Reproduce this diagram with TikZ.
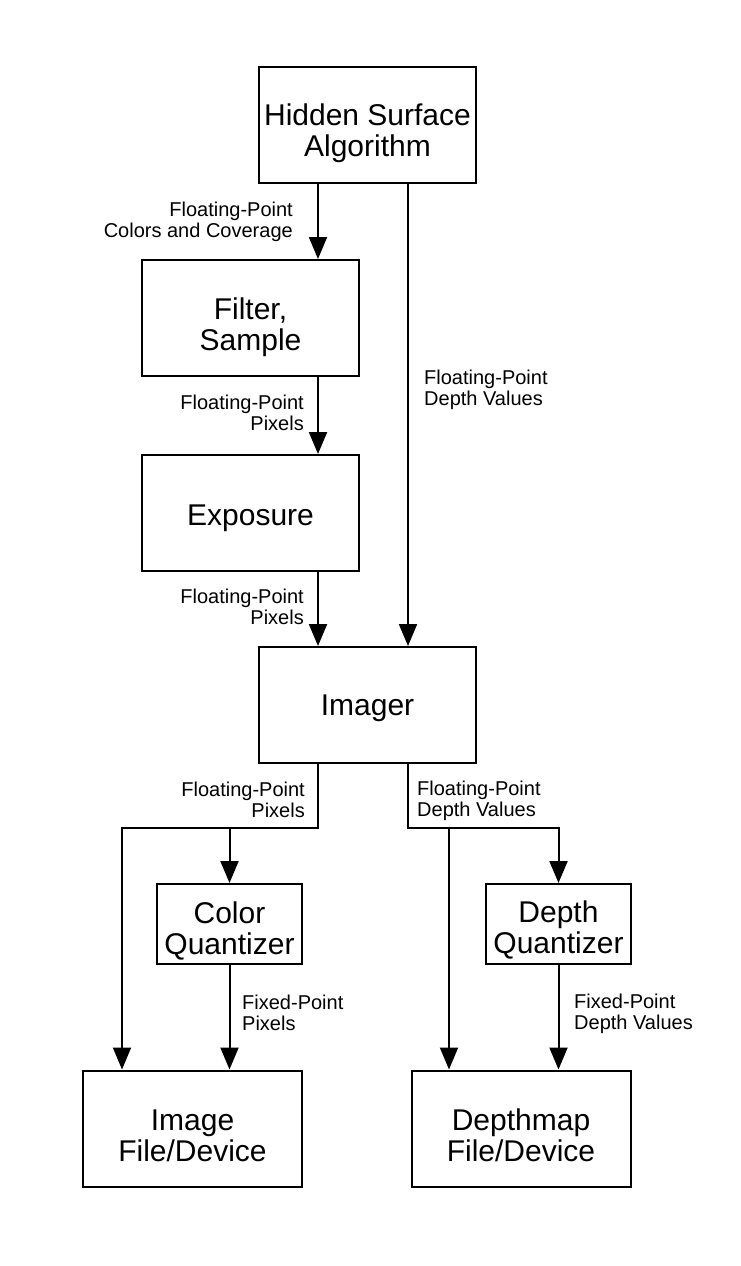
\documentclass[tikz,border=0pt]{standalone}
\usepackage{fontspec}
\setmainfont{Liberation Sans}
\usetikzlibrary{arrows.meta}
\begin{document}
\begin{tikzpicture}[x=1pt,y=-1pt,
  box/.style={draw,line width=2pt,rectangle,inner sep=0pt},
  bigbox/.style={box,minimum width=217pt,minimum height=116pt},
  smallbox/.style={box,minimum width=145pt,minimum height=80pt},
  btext/.style={inner sep=0pt,align=center,font=\fontsize{30}{31}\selectfont},
  lbl/.style={inner sep=0pt,font=\fontsize{20}{21.5}\selectfont},
  lblr/.style={lbl,anchor=east,align=right},
  lbll/.style={lbl,anchor=west,align=left},
  arr/.style={line width=2pt,-{Triangle[width=18pt,length=22pt]}}]
\fill[white] (0,0) rectangle (740,1266);
\useasboundingbox (0,0) rectangle (740,1266);
% boxes
\node[bigbox,label={[btext,name=hsat,yshift=-8pt]center:{Hidden Surface\\Algorithm}}] (hsa) at (367.5,125) {};
\node[bigbox,label={[btext,name=filtt,yshift=-9pt]center:{Filter,\\Sample}}] (filt) at (250.5,318) {};
\node[bigbox,label={[btext,name=expot,yshift=-5pt]center:{Exposure}}] (expo) at (250.5,513) {};
\node[bigbox,label={[btext,name=imagt,yshift=-3pt]center:{Imager}}] (imag) at (367.5,705) {};
\node[smallbox,label={[btext,name=cqt,yshift=-7pt]center:{Color\\Quantizer}}] (cq) at (229.5,924) {};
\node[smallbox,label={[btext,name=dqt,yshift=-6pt]center:{Depth\\Quantizer}}] (dq) at (558.5,924) {};
\node[bigbox,minimum width=219pt,label={[btext,name=imgft,yshift=-7pt]center:{Image\\File/Device}}] (imgf) at (192.5,1128.5) {};
\node[bigbox,minimum width=219pt,label={[btext,name=dmft,yshift=-7pt]center:{Depthmap\\File/Device}}] (dmf) at (521,1128.5) {};
% columns and junctions
\coordinate (cA) at (318,0);
\coordinate (cB) at (408,0);
\coordinate (jA) at (318,828);
\coordinate (jB) at (408,828);
\coordinate (jL) at (122,828);
\coordinate (jR) at (449,828);
% connectors
\draw[arr] (hsa.south -| cA) -- (filt.north -| cA);
\draw[arr] (hsa.south -| cB) -- (imag.north -| cB);
\draw[arr] (filt.south -| cA) -- (expo.north -| cA);
\draw[arr] (expo.south -| cA) -- (imag.north -| cA);
\draw[arr] (imag.south -| jA) -- (jA) -| (imgf.north -| jL);
\draw[arr] (cq.north |- jA) -- (cq.north);
\draw[arr] (imag.south -| jB) -- (jB) -| (dq.north);
\draw[arr] (jR) -- (dmf.north -| jR);
\draw[arr] (cq.south) -- (imgf.north -| cq.south);
\draw[arr] (dq.south) -- (dmf.north -| dq.south);
% labels
\node[lblr] (l1) at (293,222) {Floating-Point\\Colors and Coverage};
\node[lbll] (l2) at (424,390) {Floating-Point\\Depth Values};
\node[lblr] (l3) at (304,413) {Floating-Point\\Pixels};
\node[lblr] (l4) at (304,607) {Floating-Point\\Pixels};
\node[lblr] (l5) at (305,800) {Floating-Point\\Pixels};
\node[lbll] (l6) at (417,801) {Floating-Point\\Depth Values};
\node[lbll] (l7) at (242,1013) {Fixed-Point\\Pixels};
\node[lbll] (l8) at (574,1014) {Fixed-Point\\Depth Values};
\end{tikzpicture}
\end{document}
